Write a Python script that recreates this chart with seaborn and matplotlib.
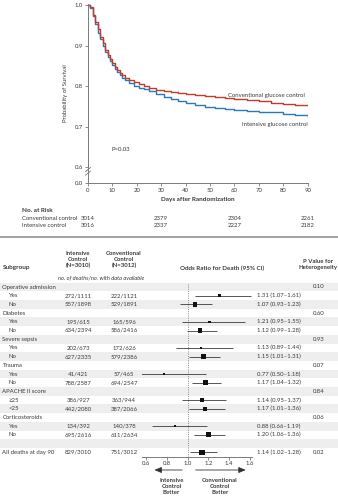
import numpy as np
import pandas as pd
import matplotlib
matplotlib.use("Agg")
import matplotlib.pyplot as plt
import seaborn as sns

# ---------------- data ----------------
days_conv = [0, 1, 2, 3, 4, 5, 6, 7, 8, 9, 10, 11, 12, 13, 14, 15, 17, 19, 21, 23, 25, 28,
             31, 34, 37, 40, 44, 48, 52, 56, 60, 65, 70, 75, 80, 85, 90]
surv_conv = [1.0, 0.995, 0.975, 0.958, 0.94, 0.922, 0.905, 0.89, 0.877, 0.866, 0.856, 0.847,
             0.839, 0.832, 0.826, 0.821, 0.815, 0.809, 0.804, 0.799, 0.795, 0.791,
             0.788, 0.785, 0.782, 0.780, 0.777, 0.775, 0.772, 0.770, 0.768, 0.765, 0.762,
             0.759, 0.756, 0.753, 0.7507]
days_int = [0, 1, 2, 3, 4, 5, 6, 7, 8, 9, 10, 11, 12, 13, 14, 15, 17, 19, 21, 23, 25, 28,
            31, 34, 37, 40, 44, 48, 52, 56, 60, 65, 70, 75, 80, 85, 90]
surv_int = [1.0, 0.993, 0.972, 0.952, 0.932, 0.915, 0.899, 0.885, 0.872, 0.861, 0.851, 0.842,
            0.834, 0.827, 0.821, 0.816, 0.808, 0.801, 0.796, 0.792, 0.787, 0.780,
            0.773, 0.767, 0.762, 0.757, 0.752, 0.748, 0.745, 0.743, 0.741, 0.739, 0.737,
            0.735, 0.732, 0.728, 0.7246]

risk_days = [0, 30, 60, 90]
risk_conv = [3014, 2379, 2304, 2261]
risk_int = [3016, 2337, 2227, 2182]

group_names = ["Operative admission", "Diabetes", "Severe sepsis", "Trauma",
               "APACHE II score", "Corticosteroids"]
level_names = [["Yes", "No"], ["Yes", "No"], ["Yes", "No"], ["Yes", "No"],
               ["\u226525", "<25"], ["Yes", "No"]]
p_het = ["0.10", "0.60", "0.93", "0.07", "0.84", "0.06"]
int_deaths = [272, 557, 195, 634, 202, 627, 41, 788, 386, 442, 134, 695]
int_n = [1111, 1898, 615, 2394, 673, 2335, 421, 2587, 927, 2080, 392, 2616]
conv_deaths = [222, 529, 165, 586, 172, 579, 57, 694, 363, 387, 140, 611]
conv_n = [1121, 1891, 596, 2416, 626, 2386, 465, 2547, 944, 2066, 378, 2634]
odds = [1.31, 1.07, 1.21, 1.12, 1.13, 1.15, 0.77, 1.17, 1.14, 1.17, 0.88, 1.20]
ci_low = [1.07, 0.93, 0.95, 0.99, 0.89, 1.01, 0.50, 1.04, 0.95, 1.01, 0.66, 1.06]
ci_high = [1.61, 1.23, 1.55, 1.28, 1.44, 1.31, 1.18, 1.32, 1.37, 1.36, 1.19, 1.36]

overall_label = "All deaths at day 90"
overall_int = (829, 3010)
overall_conv = (751, 3012)
overall_or = (1.14, 1.02, 1.28)
overall_p = "0.02"

or_ticks = [0.6, 0.8, 1.0, 1.2, 1.4, 1.6]

# ---------------- style ----------------
sns.set_theme(style="white")
plt.rcParams['font.family'] = ['Lato', 'DejaVu Sans']
TXT = "#3a3a3a"
GRAY = "#7a7a7a"
RED = "#c23a2c"
BLUE = "#2a7ab8"
FS = 4.3

W, H = 338, 500
fig = plt.figure(figsize=(W / 100, H / 100), dpi=100)
fig.patch.set_facecolor("white")


def rect(l, t, r, b):
    return [l / W, 1 - b / H, (r - l) / W, (b - t) / H]


def ftext(x, y, s, **kw):
    kw.setdefault("fontsize", FS)
    kw.setdefault("color", TXT)
    kw.setdefault("va", "center")
    fig.text(x / W, 1 - y / H, s, **kw)


# ---------------- Kaplan-Meier panel ----------------
ax = fig.add_axes(rect(88, 3.8, 307.6, 183))
km = pd.concat([
    pd.DataFrame({"day": days_int, "surv": surv_int, "arm": "Intensive glucose control"}),
    pd.DataFrame({"day": days_conv, "surv": surv_conv, "arm": "Conventional glucose control"}),
])
sns.lineplot(data=km, x="day", y="surv", hue="arm", estimator=None,
             palette={"Intensive glucose control": BLUE, "Conventional glucose control": RED},
             drawstyle="steps-post", linewidth=1.0, legend=False, ax=ax)
ybot = 0.6 - 16 * 0.4 / 162
ax.set_xlim(0, 90)
ax.set_ylim(ybot, 1.003)
ax.set_xticks(range(0, 91, 10))
ax.set_yticks([ybot, 0.6, 0.7, 0.8, 0.9, 1.0])
ax.set_yticklabels(["0.0", "0.6", "0.7", "0.8", "0.9", "1.0"])
ax.set_xlabel("Days after Randomization", fontsize=FS + 0.3, fontweight="bold",
              color=TXT, labelpad=3)
ax.set_ylabel("Probability of Survival", fontsize=FS, color=TXT, labelpad=5)
for s in ["top", "right"]:
    ax.spines[s].set_visible(False)
for s in ["left", "bottom"]:
    ax.spines[s].set_color(GRAY)
    ax.spines[s].set_linewidth(0.7)
ax.tick_params(axis="both", which="both", direction="out", length=2.2, width=0.6,
               color=GRAY, labelsize=FS, labelcolor=TXT, pad=1.5, left=True, bottom=True)
ax.patch.set_alpha(0)
# axis break marks
for dy in (0.055, 0.075):
    ax.plot([-0.012, 0.012], [dy - 0.012, dy + 0.012], transform=ax.transAxes,
            color=GRAY, lw=0.6, clip_on=False)
ax.text(0.987, 0.781 - 1.003 + 1.003, "", transform=ax.transAxes)
ax.text(89, 0.776, "Conventional glucose control", ha="right", va="center",
        fontsize=FS, color=TXT)
ax.text(90, 0.705, "Intensive glucose control", ha="right", va="center",
        fontsize=FS, color=TXT)
ax.text(9.5, 0.644, "P=0.03", ha="left", va="center", fontsize=FS, color=TXT)

# number at risk
def xday(d):
    return 88 + d * (307.6 - 88) / 90

ftext(21.5, 211, "No. at Risk", fontweight="bold", fontsize=FS + 0.3)
ftext(21.5, 219, "Conventional control")
ftext(21.5, 225.5, "Intensive control")
for d, c, i in zip(risk_days, risk_conv, risk_int):
    ftext(xday(d), 219, f"{c}", ha="center")
    ftext(xday(d), 225.5, f"{i}", ha="center")

# separator
fig.add_artist(plt.Line2D([0, 1], [1 - 237 / H, 1 - 237 / H], color="#9a9a9a", lw=1.3))

# ---------------- Forest panel ----------------
rows = []
k = 0
for g, lv, p in zip(group_names, level_names, p_het):
    rows.append(dict(label=g, header=True, p=p))
    for name in lv:
        rows.append(dict(label=name, header=False, p="",
                         idd=int_deaths[k], inn=int_n[k], cd=conv_deaths[k], cn=conv_n[k],
                         est=odds[k], lo=ci_low[k], hi=ci_high[k]))
        k += 1
rows.append(dict(label="", header=True, p=""))
rows.append(dict(label=overall_label, header=True, p=overall_p,
                 idd=overall_int[0], inn=overall_int[1], cd=overall_conv[0], cn=overall_conv[1],
                 est=overall_or[0], lo=overall_or[1], hi=overall_or[2]))
df = pd.DataFrame(rows)
df["row"] = np.arange(len(df))
nrows = len(df)

ROW0, STEP = 287.0, 8.7
top_px = ROW0 - 0.5 * STEP
bot_px = ROW0 + (nrows - 0.5) * STEP

bg = fig.add_axes(rect(0, top_px, W, bot_px))
bg.set_xlim(0, W)
bg.set_ylim(nrows - 0.5, -0.5)
bg.axis("off")
for r in df["row"]:
    if r % 2 == 0:
        bg.axhspan(r - 0.5, r + 0.5, color="#eeeeee", lw=0, zorder=0)

for _, rw in df.iterrows():
    r = rw["row"]
    if rw["label"]:
        x = 2.5 if rw["header"] else 8.5
        bg.text(x, r, rw["label"], ha="left", va="center", fontsize=FS, color=TXT)
    if not pd.isna(rw.get("idd", np.nan)):
        bg.text(78.5, r, f"{int(rw['idd'])}/{int(rw['inn'])}", ha="center", va="center",
                fontsize=FS, color=TXT)
        bg.text(124, r, f"{int(rw['cd'])}/{int(rw['cn'])}", ha="center", va="center",
                fontsize=FS, color=TXT)
        bg.text(257, r, f"{rw['est']:.2f} ({rw['lo']:.2f}\u2013{rw['hi']:.2f})",
                ha="left", va="center", fontsize=FS, color=TXT)
    if rw["p"]:
        bg.text(313, r, rw["p"], ha="left", va="center", fontsize=FS, color=TXT)

fa = fig.add_axes(rect(141.7, top_px, 252, bot_px))
fa.patch.set_alpha(0)
x_lo = 0.6 - (146 - 141.7) / 104
x_hi = 1.6 + (252 - 250) / 104
fa.set_xlim(x_lo, x_hi)
fa.set_ylim(nrows - 0.5, -0.5)
pts = df.dropna(subset=["est"]).copy()
pts["deaths"] = pts["idd"] + pts["cd"]
side_px = np.clip(5.4 * np.sqrt(pts["deaths"] / 1580.0), 1.7, None)
sizes = (side_px * 0.72) ** 2
fa.axvline(1.0, color="#8a8a8a", lw=0.7, ls=(0, (1, 1.3)), zorder=1)
fa.hlines(pts["row"], pts["lo"], pts["hi"], color="#2a2a2a", lw=0.55, zorder=2)
sns.scatterplot(data=pts, x="est", y="row", marker="s", s=sizes.values, color="#111111",
                edgecolor="none", linewidth=0, legend=False, ax=fa, zorder=3)
fa.set_xlabel("")
fa.set_ylabel("")
fa.set_yticks([])
fa.set_xticks(or_ticks)
fa.set_xticklabels([f"{t:.1f}" for t in or_ticks])
for s in ["top", "right", "left"]:
    fa.spines[s].set_visible(False)
fa.spines["bottom"].set_color(GRAY)
fa.spines["bottom"].set_linewidth(0.7)
fa.tick_params(axis="x", direction="out", length=2.2, width=0.6, color=GRAY,
               labelsize=FS, labelcolor=TXT, pad=1.2, bottom=True)

# arrows
yarr = -(470 - bot_px) / (bot_px - top_px)
arrow_kw = dict(arrowstyle="-|>,head_length=0.35,head_width=0.15", color="#333333", lw=0.6)
fa.annotate("", xy=(0.655, yarr), xytext=(0.975, yarr),
            xycoords=("data", "axes fraction"), textcoords=("data", "axes fraction"),
            arrowprops=arrow_kw, annotation_clip=False)
fa.annotate("", xy=(1.585, yarr), xytext=(1.05, yarr),
            xycoords=("data", "axes fraction"), textcoords=("data", "axes fraction"),
            arrowprops=arrow_kw, annotation_clip=False)
ftext(171.5, 486.5, "Intensive\nControl\nBetter", ha="center", fontweight="bold",
      linespacing=1.25)
ftext(220, 486.5, "Conventional\nControl\nBetter", ha="center", fontweight="bold",
      linespacing=1.25)

# headers
ftext(2.5, 268, "Subgroup", fontweight="bold", fontsize=FS + 0.3)
ftext(78, 260, "Intensive\nControl\n(N=3010)", ha="center", fontweight="bold",
      linespacing=1.2)
ftext(124, 260, "Conventional\nControl\n(N=3012)", ha="center", fontweight="bold",
      linespacing=1.2)
ftext(101, 278.3, "no. of deaths/no. with data available", ha="center", style="italic",
      fontsize=FS - 0.2)
ftext(222, 268, "Odds Ratio for Death (95% CI)", ha="center", fontweight="bold",
      fontsize=FS + 0.2)
ftext(318, 264.5, "P Value for\nHeterogeneity", ha="center", fontweight="bold",
      linespacing=1.25)

fig.savefig("out.png", dpi=100, facecolor="white")
